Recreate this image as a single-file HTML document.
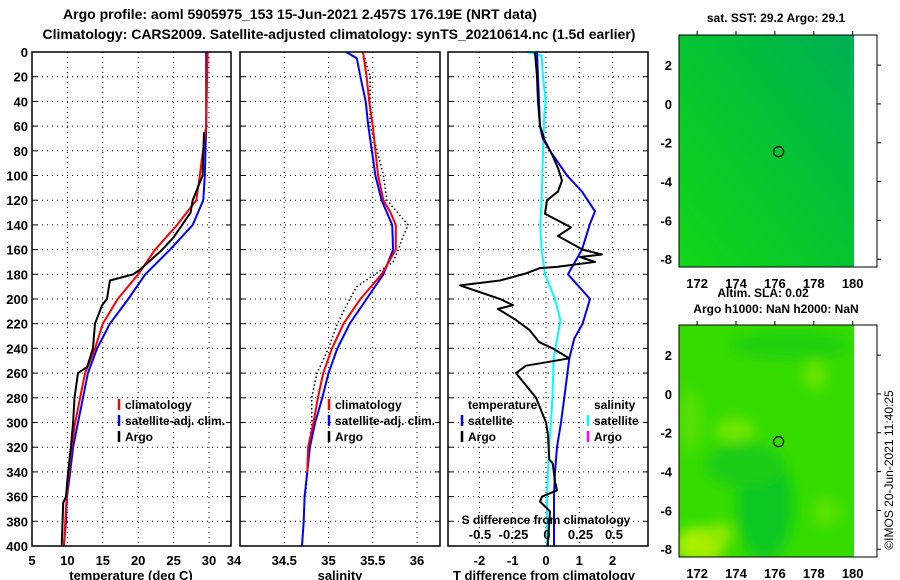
<!DOCTYPE html>
<html><head><meta charset="utf-8">
<style>
html,body{margin:0;padding:0;background:#fff;}
svg{display:block;font-family:"Liberation Sans",sans-serif;font-weight:bold;}
</style></head>
<body>
<svg id="fig" width="900" height="580" viewBox="0 0 900 580" xmlns="http://www.w3.org/2000/svg">
<defs>
<linearGradient id="g1" x1="0" y1="1" x2="1" y2="0">
<stop offset="0" stop-color="#10d818"/><stop offset="0.5" stop-color="#04c430"/><stop offset="1" stop-color="#00b055"/>
</linearGradient>
<filter id="bl" x="-50%" y="-50%" width="200%" height="200%"><feGaussianBlur stdDeviation="6"/></filter>
<clipPath id="c2"><rect x="679" y="325" width="175" height="232"/></clipPath>
</defs>
<text x="300" y="19" font-size="14" text-anchor="middle">Argo profile: aoml 5905975_153 15-Jun-2021 2.457S 176.19E (NRT data)</text>
<text x="339" y="39" font-size="14" text-anchor="middle">Climatology: CARS2009. Satellite-adjusted climatology: synTS_20210614.nc (1.5d earlier)</text>
<g id="p1"></g>
<g id="p2"></g>
<g id="p3"></g>
<g id="m1">
<text x="776" y="22" font-size="12" text-anchor="middle">sat. SST: 29.2 Argo: 29.1</text>
<rect x="679" y="35" width="175" height="232" fill="url(#g1)"/>
<rect x="679" y="35" width="198" height="232" fill="none" stroke="#000" stroke-width="1"/>
</g>
<g id="m2">
<text x="763" y="297" font-size="12" text-anchor="middle">Altim. SLA: 0.02</text>
<text x="776" y="313" font-size="12" text-anchor="middle">Argo h1000: NaN h2000: NaN</text>
<g clip-path="url(#c2)">
<rect x="679" y="325" width="175" height="232" fill="#36dc00"/>
<g filter="url(#bl)">
<ellipse cx="765" cy="505" rx="28" ry="55" fill="#10c824"/>
<ellipse cx="745" cy="465" rx="40" ry="22" fill="#1ccc18"/>
<ellipse cx="790" cy="345" rx="60" ry="15" fill="#20d010"/>
<ellipse cx="735" cy="430" rx="20" ry="12" fill="#70e600"/>
<ellipse cx="815" cy="375" rx="12" ry="15" fill="#66e400"/>
<ellipse cx="700" cy="545" rx="25" ry="18" fill="#a8ee00"/>
<ellipse cx="720" cy="535" rx="12" ry="12" fill="#90ea00"/>
<ellipse cx="826" cy="512" rx="14" ry="14" fill="#5ae200"/>
<ellipse cx="690" cy="420" rx="12" ry="30" fill="#55e000"/>
</g>
</g>
<rect x="679" y="325" width="198" height="232" fill="none" stroke="#000" stroke-width="1"/>
</g>
<text transform="translate(893,470) rotate(-90)" font-size="12" font-weight="normal" text-anchor="middle">©IMOS 20-Jun-2021 11:40:25</text>
</svg>
<script>
// ---- data ----
const tDepthClim = [0,60,100,120,140,160,180,200,220,240,260,280,300,320,340,360,380,400];
const tClim = [29.8,29.6,28.7,28.2,25.5,22.4,20.0,17.1,15.0,13.9,12.5,11.8,11.1,10.6,10.2,9.9,9.7,9.5];
const tSat = [29.6,29.6,29.4,29.2,27.7,24.5,21.0,18.6,16.0,14.2,12.9,12.2,11.5,10.8,10.4,9.95,9.8,9.5];
const tArgoDepth = [65,100,120,130,140,150,160,170,176,180,185,200,205,220,240,255,260,280,300,320,340,360,365,400];
const tArgo = [29.3,29.1,27.7,27.4,26.2,25.0,23.4,21.5,20.3,19.3,16.0,15.6,14.9,13.9,13.6,12.8,11.5,11.0,10.8,10.5,10.1,9.8,9.4,9.2];
const sDepth = [0,5,20,40,60,80,100,120,130,140,160,180,200,220,240,260,280,300,320,340,360,380,400];
const sClim = [35.39,35.40,35.43,35.46,35.50,35.53,35.56,35.62,35.70,35.76,35.76,35.60,35.36,35.17,35.04,34.94,34.88,34.83,34.77,34.76,null,null,null];
const sSat = [35.2,35.32,35.36,35.42,35.45,35.49,35.53,35.60,35.66,35.72,35.73,35.62,35.43,35.24,35.10,35.00,34.93,34.85,34.79,34.76,34.73,34.72,34.70];
const sArgoDepth = [5,20,60,80,100,120,140,150,160,170,190,200,220,240,260,280,300,320,340,360];
const sArgo = [35.41,35.47,35.47,35.55,35.62,35.66,35.90,35.84,35.79,35.73,35.32,35.24,35.10,35.00,34.87,34.81,34.81,34.78,34.76,34.74];
const dtSatDepth = [0,60,70,80,100,113,129,139,160,180,200,220,232,248,280,300,320,340,360,400];
const dtSat = [-0.27,-0.18,-0.10,0.12,0.63,1.08,1.47,1.32,1.08,0.66,1.32,1.10,0.85,0.70,0.55,0.45,0.33,0.27,0.24,0.24];
const dtArgoDepth = [0,20,40,60,72,83,94,104,113,120,131,136,142,149,160,164,166,170,174,175,179,185,189,200,205,208,217,225,235,240,248,252,254,260,270,280,300,310,330,333,348,355,360,364,372,400];
const dtArgo = [-0.33,-0.27,-0.24,-0.18,-0.03,0.18,0.36,0.48,0.36,0.03,-0.03,0.33,0.75,0.36,1.10,1.68,1.02,1.47,0.33,-0.18,-0.57,-1.38,-2.58,-1.38,-0.99,-1.44,-0.9,-0.5,-0.2,0.2,0.7,-0.15,-0.6,-0.9,-0.6,-0.3,0.0,0.06,0.1,0.2,0.27,0.33,-0.12,-0.18,0.12,0.05];
const dsSatDepth = [0,3,20,40,50,80,120,140,160,180,200,217,230,248,280,300,320,360,400];
const dsSat = [-0.15,-0.04,-0.03,-0.01,-0.02,-0.03,-0.04,-0.05,-0.04,-0.015,0.06,0.10,0.08,0.05,0.04,0.03,0.015,0.0,0.0];
const depthTicks = [0,20,40,60,80,100,120,140,160,180,200,220,240,260,280,300,320,340,360,380,400];
const tTicks = [5,10,15,20,25,30];
const sTicks = [34,34.5,35,35.5,36];
const dTTicks = [-2,-1,0,1,2];
const dSTicks = [-0.5,-0.25,0,0.25,0.5];
const dSTickLabels = ["-0.5","-0.25","0","0.25","0.5"];
const lonTicks = [172,174,176,178,180];
const latTicks = [2,0,-2,-4,-6,-8];
const argoLon = [176.19];
const argoLat = [-2.457];

const NS = 'http://www.w3.org/2000/svg';
function mk(parent, tag, attrs){const e=document.createElementNS(NS,tag);for(const k in attrs)e.setAttribute(k,attrs[k]);parent.appendChild(e);return e;}
const Y0=52, Y1=546;
const yD = d => Y0 + d*(Y1-Y0)/400;
const xT = v => 32 + (v-5)*7.08;
const xS = v => 240 + (v-34)*88.5;
const xDT = v => 546 + v*33.3;
const xDS = v => 547 + v*134;

function frame(g, x0, x1, name){
  const r=mk(g,'rect',{x:x0,y:Y0,width:x1-x0,height:Y1-Y0,fill:'none',stroke:'#000','stroke-width':1.5});
  
  
}
function hgrid(g,x0,x1){
  depthTicks.forEach(d=>{
    if(d===0||d===400) return;
    const l=mk(g,'line',{x1:x0,x2:x1,y1:yD(d),y2:yD(d),stroke:'#000','stroke-width':1,'stroke-dasharray':'1,4'});
    
    
    const t1=mk(g,'line',{x1:x0,x2:x0+5,y1:yD(d),y2:yD(d),stroke:'#000'});
    
    
    const t2=mk(g,'line',{x1:x1-5,x2:x1,y1:yD(d),y2:yD(d),stroke:'#000'});
    
    
  });
}
function vgrid(g,ticks,fx,x0,x1){
  ticks.forEach(v=>{
    const x=fx(v); if(x<=x0+1||x>=x1-1) return;
    const l=mk(g,'line',{x1:x,x2:x,y1:Y0,y2:Y1,stroke:'#000','stroke-width':1,'stroke-dasharray':'1,4'});
    
    
  });
}
function xlabels(g,ticks,fx,y,labels){
  ticks.forEach((v,i)=>{
    const t=mk(g,'text',{x:fx(v),y:y,'font-size':13,'text-anchor':'middle'});
    t.textContent = labels?labels[i]:String(v);
    
    
  });
}
function line(g, depths, vals, fx, color, w, dash, name){
  const pts=[];
  depths.forEach((d,i)=>{ if(vals[i]!==null) pts.push(fx(vals[i]).toFixed(1)+','+yD(d).toFixed(1)); });
  const a={points:pts.join(' '),fill:'none',stroke:color,'stroke-width':w,'stroke-linejoin':'round'};
  if(dash) a['stroke-dasharray']=dash;
  const p=mk(g,'polyline',a);
  
  
}
function legend(g,x,y,color,label,name){
  const m=mk(g,'line',{x1:x,x2:x,y1:y-10,y2:y+1,stroke:color,'stroke-width':2.5});
  
  
  const t=mk(g,'text',{x:x+6,y:y,'font-size':12});
  t.textContent=label;
  
  
}

// Panel 1
const p1=document.getElementById('p1');
hgrid(p1,32,231); vgrid(p1,tTicks,xT,32,231);
depthTicks.forEach(d=>{
  const t=mk(p1,'text',{x:28,y:yD(d)+5,'font-size':13,'text-anchor':'end'});
  t.textContent=String(d);
  
  
});
line(p1,tDepthClim,tSat,xT,'#0000ff',2,null,'temperature-satellite-line');
line(p1,tDepthClim,tClim,xT,'#ff0000',2,null,'temperature-climatology-line');
line(p1,tArgoDepth,tArgo,xT,'#000',2,null,'temperature-argo-line');
frame(p1,32,231,'temperature-axes-frame');
xlabels(p1,tTicks.concat([35]).filter(v=>v<=30),xT,565);
{const t=mk(p1,'text',{x:234,y:565,'font-size':13,'text-anchor':'middle'});t.textContent='34';}
{const t=mk(p1,'text',{x:131,y:580,'font-size':13,'text-anchor':'middle'});t.textContent='temperature (deg C)';}
legend(p1,119,409,'#ff0000','climatology','legend-climatology');
legend(p1,119,425,'#0000ff','satellite-adj. clim.','legend-satellite-adj');
legend(p1,119,441,'#000','Argo','legend-argo');

// Panel 2
const p2=document.getElementById('p2');
hgrid(p2,240,440); vgrid(p2,sTicks,xS,240,440);
line(p2,sArgoDepth,sArgo,xS,'#000',1.5,'1.5,2.5','salinity-argo-line');
line(p2,sDepth,sSat,xS,'#0000ff',2,null,'salinity-satellite-line');
line(p2,sDepth,sClim,xS,'#ff0000',2,null,'salinity-climatology-line');
frame(p2,240,440,'salinity-axes-frame');
xlabels(p2,sTicks.slice(1),xS,565);
{const t=mk(p2,'text',{x:340,y:580,'font-size':13,'text-anchor':'middle'});t.textContent='salinity';}
legend(p2,329,409,'#ff0000','climatology','legend-climatology');
legend(p2,329,425,'#0000ff','satellite-adj. clim.','legend-satellite-adj');
legend(p2,329,441,'#000','Argo','legend-argo');

// Panel 3
const p3=document.getElementById('p3');
hgrid(p3,448,648); vgrid(p3,dTTicks,xDT,448,648);
line(p3,dsSatDepth,dsSat,xDS,'#00ffff',2,null,'salinity-diff-satellite-line');
line(p3,dtSatDepth,dtSat,xDT,'#0000ff',2,null,'temperature-diff-satellite-line');
line(p3,dtArgoDepth,dtArgo,xDT,'#000',2,null,'temperature-diff-argo-line');
frame(p3,448,648,'difference-axes-frame');
xlabels(p3,dTTicks,xDT,565);
xlabels(p3,dSTicks,xDS,539,dSTickLabels);
{const t=mk(p3,'text',{x:546,y:524,'font-size':12,'text-anchor':'middle'});t.textContent='S difference from climatology';}
{const t=mk(p3,'text',{x:544,y:580,'font-size':13,'text-anchor':'middle'});t.textContent='T difference from climatology';}
{const t=mk(p3,'text',{x:468,y:409,'font-size':12});t.textContent='temperature';}
{const t=mk(p3,'text',{x:594,y:409,'font-size':12});t.textContent='salinity';}
legend(p3,462,425,'#0000ff','satellite','legend-t-satellite');
legend(p3,462,441,'#000','Argo','legend-t-argo');
legend(p3,588,425,'#00ffff','satellite','legend-s-satellite');
legend(p3,588,441,'#ff00ff','Argo','legend-s-argo');

// Maps
function mapAxes(gid, top, withLon){
  const g=document.getElementById(gid);
  const h=232, lat0=3.55, lat1=-8.4, lon0=171.07, lon1=181.25;
  const mx=v=>679+(v-lon0)*(198/(lon1-lon0));
  const my=v=>top+(lat0-v)*(h/(lat0-lat1));
  latTicks.forEach(v=>{
    const t=mk(g,'text',{x:672,y:my(v)+5,'font-size':13,'text-anchor':'end'});
    t.textContent=String(v);
    
    
    const k=mk(g,'line',{x1:877,x2:881,y1:my(v),y2:my(v),stroke:'#000'});
    
    
  });
  lonTicks.forEach(v=>{
    const k=mk(g,'line',{x1:mx(v),x2:mx(v),y1:top-4,y2:top,stroke:'#000'});
    
    
    const t=mk(g,'text',{x:mx(v),y:top+h+(withLon?21:20),'font-size':13,'text-anchor':'middle'});
    t.textContent=String(v);
    
    
  });
  argoLon.forEach((lo,i)=>{
    const c=mk(g,'circle',{cx:mx(lo),cy:my(argoLat[i]),r:5,fill:'none',stroke:'#000','stroke-width':1.2});
    
    
  });
}
mapAxes('m1',35,true);
mapAxes('m2',325,true);
</script>
</body></html>
